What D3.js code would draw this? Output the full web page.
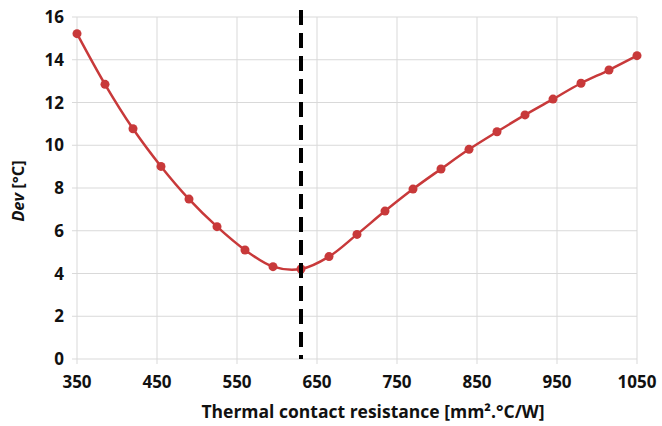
<!DOCTYPE html>
<meta charset="utf-8">
<style>
body { margin: 0; background: #fff; }
text { font-family: "Open Sans", sans-serif; font-weight: bold; fill: #111; }
.grid line { stroke: #d9d9d9; stroke-width: 1; }
</style>
<svg id="chart" width="662" height="426"></svg>
<script src="https://cdn.jsdelivr.net/npm/d3@7"></script>
<script>

// resistance values (mm².°C/W)
var resistance = [350, 385, 420, 455, 490, 525, 560, 595, 630, 665, 700,
                  735, 770, 805, 840, 875, 910, 945, 980, 1015, 1050];
// deviation (°C)
var dev = [15.22, 12.85, 10.77, 9.01, 7.48, 6.19, 5.10, 4.32, 4.21, 4.79, 5.83,
           6.92, 7.95, 8.89, 9.81, 10.63, 11.42, 12.16, 12.90, 13.52, 14.19];
var xTicks = [350, 450, 550, 650, 750, 850, 950, 1050];
var yTicks = [0, 2, 4, 6, 8, 10, 12, 14, 16];
var optimum = 630;

var svg = d3.select("#chart");

var x = d3.scaleLinear().domain([350, 1050]).range([77, 637]);
var y = d3.scaleLinear().domain([0, 16]).range([359, 17]);

// grid
var grid = svg.append("g").attr("class", "grid");
grid.selectAll(".v").data(xTicks).enter().append("line")
    .attr("x1", function(d) { return x(d); })
    .attr("x2", function(d) { return x(d); })
    .attr("y1", y(16)).attr("y2", y(0) + 5);
grid.selectAll(".h").data(yTicks).enter().append("line")
    .attr("x1", x(350) - 5).attr("x2", x(1050))
    .attr("y1", function(d) { return y(d); })
    .attr("y2", function(d) { return y(d); });

// tick labels
svg.append("g").selectAll("text").data(xTicks).enter().append("text")
    .attr("x", function(d) { return x(d); })
    .attr("y", 388)
    .attr("text-anchor", "middle")
    .style("font-size", "17px")
    .text(function(d) { return d; });

svg.append("g").selectAll("text").data(yTicks).enter().append("text")
    .attr("x", 64)
    .attr("y", function(d) { return y(d) + 6; })
    .attr("text-anchor", "end")
    .style("font-size", "17px")
    .text(function(d) { return d; });

// axis titles
svg.append("text")
    .attr("x", 373).attr("y", 418)
    .attr("text-anchor", "middle")
    .style("font-size", "17.5px")
    .text("Thermal contact resistance [mm².°C/W]");

var yt = svg.append("text")
    .attr("transform", "translate(24,191) rotate(-90)")
    .attr("text-anchor", "middle")
    .style("font-size", "16.5px");
yt.append("tspan").style("font-style", "italic").text("Dev");
yt.append("tspan").text(" [°C]");

// the curve
var pts = resistance.map(function(r, i) { return [r, dev[i]]; });
var line = d3.line()
    .x(function(d) { return x(d[0]); })
    .y(function(d) { return y(d[1]); })
    .curve(d3.curveCatmullRom.alpha(0.5));

svg.append("path")
    .datum(pts)
    .attr("d", line)
    .attr("fill", "none")
    .attr("stroke", "#c8393a")
    .attr("stroke-width", 2.5);

svg.append("g").selectAll("circle").data(pts).enter().append("circle")
    .attr("cx", function(d) { return x(d[0]); })
    .attr("cy", function(d) { return y(d[1]); })
    .attr("r", 4.5)
    .attr("fill", "#c8393a");

// optimum marker
svg.append("line")
    .attr("x1", x(optimum)).attr("x2", x(optimum))
    .attr("y1", 10).attr("y2", y(0))
    .attr("stroke", "#000")
    .attr("stroke-width", 4)
    .attr("stroke-dasharray", "15,8");

</script>
